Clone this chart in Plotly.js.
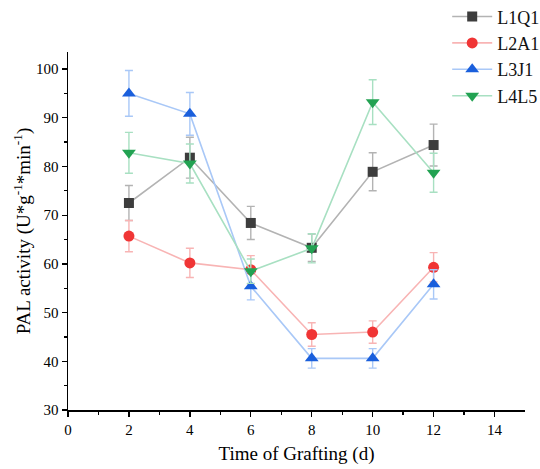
<!DOCTYPE html>
<html>
<head>
<meta charset="utf-8">
<script src="https://cdn.plot.ly/plotly-3.0.1.min.js"></script>
<style>html,body{margin:0;padding:0;background:#fff;}#chart{width:540px;height:469px;}</style>
</head>
<body>
<div id="chart"></div>
<script>
const days = [2, 4, 6, 8, 10, 12];
const seriesNames = ["L1Q1", "L2A1", "L3J1", "L4L5"];
const L1Q1 = [72.5, 81.8, 68.4, 63.3, 78.9, 84.4];
const L1Q1_err = [3.6, 4.2, 3.4, 2.8, 3.9, 4.3];
const L2A1 = [65.7, 60.2, 58.8, 45.5, 46.0, 59.3];
const L2A1_err = [3.2, 3.0, 2.9, 2.4, 2.3, 3.0];
const L3J1 = [95.0, 90.8, 55.4, 40.6, 40.6, 55.8];
const L3J1_err = [4.7, 4.4, 2.8, 2.0, 2.0, 3.0];
const L4L5 = [82.8, 80.6, 58.5, 63.2, 93.2, 78.7];
const L4L5_err = [4.2, 4.0, 2.5, 3.0, 4.6, 4.0];

const markerColors = ["#3d3d3d", "#f03535", "#1a5fdc", "#22a252"];
const lineColors = ["#b3b3b3", "#f8b4b4", "#a9c8f7", "#a8e0c2"];
const symbols = ["square", "circle", "triangle-up", "triangle-down"];
const sizes = [10, 11, 12, 12];
const values = [L1Q1, L2A1, L3J1, L4L5];
const errs = [L1Q1_err, L2A1_err, L3J1_err, L4L5_err];

const traces = seriesNames.map((name, i) => ({
  x: days, y: values[i], name: name, type: "scatter", mode: "lines+markers",
  line: {color: lineColors[i], width: 1.6},
  marker: {symbol: symbols[i], size: sizes[i], color: markerColors[i]},
  error_y: {type: "data", array: errs[i], visible: true, color: lineColors[i], thickness: 1.4, width: 4}
}));

const font = "Liberation Serif, Times New Roman, serif";
const layout = {
  width: 540, height: 469,
  margin: {l: 68, r: 15, t: 52, b: 59, autoexpand: false},
  paper_bgcolor: "#fff", plot_bgcolor: "#fff",
  font: {family: font, color: "#000", size: 15},
  showlegend: true,
  legend: {x: 1.042, y: 1.15, xanchor: "right", yanchor: "top", itemwidth: 40, font: {family: font, size: 18, color: "#111"}, bgcolor: "rgba(0,0,0,0)", tracegroupgap: 0},
  xaxis: {
    range: [0, 15], tickmode: "array", tickvals: [0, 2, 4, 6, 8, 10, 12, 14],
    ticks: "outside", ticklen: 5, tickwidth: 1.3, tickcolor: "#000",
    showline: true, linecolor: "#000", linewidth: 1.5, showgrid: false, zeroline: false,
    minor: {tickvals: [1, 3, 5, 7, 9, 11, 13], ticks: "outside", ticklen: 3, tickwidth: 1.3, tickcolor: "#000", showgrid: false},
    tickfont: {family: font, size: 15},
    title: {text: "Time of Grafting (d)", font: {family: font, size: 19}, standoff: 10}
  },
  yaxis: {
    range: [30, 103.5], tickmode: "array", tickvals: [30, 40, 50, 60, 70, 80, 90, 100],
    ticks: "outside", ticklen: 5, tickwidth: 1.3, tickcolor: "#000",
    showline: true, linecolor: "#000", linewidth: 1.5, showgrid: false, zeroline: false,
    minor: {tickvals: [35, 45, 55, 65, 75, 85, 95], ticks: "outside", ticklen: 3, tickwidth: 1.3, tickcolor: "#000", showgrid: false},
    tickfont: {family: font, size: 15},
    title: {text: "PAL activity (U*g<sup>-1</sup>*min<sup>-1</sup>)", font: {family: font, size: 19}, standoff: 0}
  }
};
Plotly.newPlot("chart", traces, layout, {displayModeBar: false, staticPlot: true});
</script>
</body>
</html>
